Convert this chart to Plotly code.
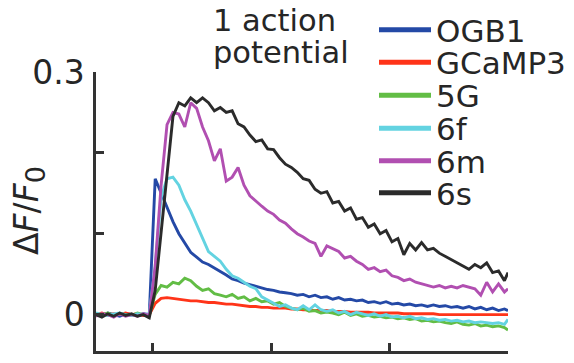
import plotly.graph_objects as go

# ---------------- data ----------------
time_s = [-0.48, -0.43, -0.38, -0.33, -0.28, -0.23, -0.18, -0.13, -0.08, -0.03,
          0.02, 0.07, 0.12, 0.17, 0.22, 0.27, 0.32, 0.37, 0.42, 0.47,
          0.52, 0.57, 0.62, 0.67, 0.72, 0.77, 0.82, 0.87, 0.92, 0.97,
          1.02, 1.07, 1.12, 1.17, 1.22, 1.27, 1.32, 1.37, 1.42, 1.47,
          1.52, 1.57, 1.62, 1.67, 1.72, 1.77, 1.82, 1.87, 1.92, 1.97,
          2.02, 2.07, 2.12, 2.17, 2.22, 2.27, 2.32, 2.37, 2.42, 2.47,
          2.52, 2.57, 2.62, 2.67, 2.72, 2.77, 2.82, 2.87, 2.92, 2.97, 3.00]

ogb1 = [0.001, -0.001, 0.002, 0.000, -0.002, 0.001, 0.000, -0.001, 0.001, 0.000,
        0.168, 0.150, 0.133, 0.115, 0.100, 0.088, 0.077, 0.071, 0.065, 0.062,
        0.058, 0.054, 0.049, 0.044, 0.042, 0.039, 0.037, 0.035, 0.033, 0.031,
        0.030, 0.028, 0.027, 0.026, 0.024, 0.025, 0.022, 0.024, 0.021, 0.022,
        0.019, 0.021, 0.018, 0.019, 0.017, 0.018, 0.015, 0.016, 0.014, 0.016,
        0.013, 0.014, 0.012, 0.013, 0.011, 0.012, 0.010, 0.012, 0.010, 0.011,
        0.009, 0.010, 0.008, 0.010, 0.007, 0.009, 0.006, 0.008, 0.005, 0.007, 0.005]

gcamp3 = [0.000, 0.002, -0.001, 0.001, 0.000, 0.002, 0.000, 0.001, -0.001, 0.000,
          0.014, 0.020, 0.021, 0.020, 0.019, 0.018, 0.017, 0.017, 0.016, 0.015,
          0.015, 0.014, 0.013, 0.013, 0.012, 0.011, 0.010, 0.010, 0.009, 0.009,
          0.008, 0.008, 0.008, 0.007, 0.007, 0.006, 0.006, 0.005, 0.005, 0.005,
          0.004, 0.004, 0.004, 0.003, 0.003, 0.003, 0.003, 0.002, 0.002, 0.002,
          0.002, 0.002, 0.001, 0.001, 0.001, 0.001, 0.001, 0.001, 0.000, 0.000,
          0.000, 0.000, 0.000, 0.000, 0.000, 0.000, 0.000, 0.000, 0.000, 0.000, 0.000]

g5 = [0.001, 0.000, 0.002, -0.001, 0.001, 0.000, -0.001, 0.002, 0.000, -0.001,
      0.025, 0.036, 0.034, 0.040, 0.038, 0.045, 0.042, 0.035, 0.030, 0.032,
      0.026, 0.024, 0.022, 0.025, 0.020, 0.022, 0.017, 0.020, 0.016, 0.017,
      0.013, 0.015, 0.010, 0.008, 0.006, 0.008, 0.004, 0.005, 0.002, 0.003,
      0.002, 0.000, 0.003, -0.001, 0.001, -0.002, -0.001, -0.003, -0.002, -0.004,
      -0.003, -0.005, -0.004, -0.006, -0.005, -0.008, -0.007, -0.009, -0.008, -0.010,
      -0.011, -0.009, -0.012, -0.013, -0.011, -0.014, -0.013, -0.015, -0.014, -0.016, -0.019]

g6f = [0.002, 0.000, -0.001, 0.001, 0.002, 0.000, -0.001, 0.001, 0.000, 0.001,
       0.060, 0.145, 0.168, 0.170, 0.160, 0.142, 0.128, 0.112, 0.094, 0.078,
       0.072, 0.066, 0.056, 0.048, 0.045, 0.040, 0.035, 0.032, 0.022, 0.018,
       0.014, 0.010, 0.012, 0.008, 0.006, 0.011, 0.006, 0.012, 0.006, 0.004,
       0.006, 0.002, 0.004, 0.000, 0.003, 0.001, -0.001, 0.001, -0.002, 0.000,
       -0.003, -0.002, -0.004, -0.002, -0.005, -0.004, -0.006, -0.005, -0.007, -0.006,
       -0.008, -0.007, -0.009, -0.008, -0.010, -0.009, -0.010, -0.011, -0.010, -0.012, -0.006]

g6m = [-0.002, 0.001, 0.000, -0.003, 0.001, -0.002, 0.000, -0.002, 0.001, -0.001,
       0.060, 0.160, 0.235, 0.250, 0.248, 0.232, 0.262, 0.255, 0.232, 0.215,
       0.190, 0.205, 0.165, 0.170, 0.182, 0.160, 0.147, 0.140, 0.134, 0.128,
       0.124, 0.117, 0.113, 0.106, 0.100, 0.096, 0.091, 0.088, 0.072, 0.085,
       0.082, 0.078, 0.070, 0.072, 0.066, 0.062, 0.056, 0.058, 0.053, 0.055,
       0.048, 0.046, 0.042, 0.044, 0.040, 0.038, 0.036, 0.034, 0.036, 0.033,
       0.035, 0.033, 0.036, 0.034, 0.032, 0.024, 0.040, 0.028, 0.038, 0.028, 0.032]

g6s = [0.000, -0.003, 0.001, -0.002, 0.002, -0.001, 0.001, -0.002, 0.000, -0.004,
       0.030, 0.100, 0.175, 0.245, 0.262, 0.258, 0.268, 0.262, 0.268, 0.262,
       0.252, 0.256, 0.250, 0.252, 0.236, 0.232, 0.222, 0.214, 0.216, 0.205,
       0.204, 0.194, 0.186, 0.182, 0.176, 0.168, 0.166, 0.155, 0.150, 0.152,
       0.138, 0.140, 0.128, 0.132, 0.118, 0.120, 0.108, 0.112, 0.100, 0.104,
       0.090, 0.094, 0.074, 0.088, 0.080, 0.089, 0.080, 0.082, 0.076, 0.072,
       0.068, 0.064, 0.060, 0.056, 0.062, 0.058, 0.064, 0.052, 0.054, 0.042, 0.052]

series_names = ["OGB1", "GCaMP3", "5G", "6f", "6m", "6s"]
series_values = [ogb1, gcamp3, g5, g6f, g6m, g6s]

x_tick_vals = [0, 1, 2, 3]
y_label_vals = [0, 0.3]
y_label_text = ["0", "0.3"]
y_minor_vals = [0.1, 0.2]

# ---------------- styling ----------------
colors = ["#2449a6", "#ff3419", "#62bd45", "#63d3e1", "#b14fb1", "#2b2b2b"]
TXT = "#262626"
AX = "#333333"
FONT = "DejaVu Sans"

W, H = 574, 363
L, R, T, B = 96, 66, 72, 12
PW, PH = W - L - R, H - T - B


def px_x(px):
    return (px - L) / PW


def px_y(py):
    return (H - B - py) / PH


fig = go.Figure()
for name, vals, col in zip(series_names, series_values, colors):
    fig.add_trace(go.Scatter(x=time_s, y=vals, mode="lines", name=name,
                             line=dict(color=col, width=2.9),
                             showlegend=False, cliponaxis=False, hoverinfo="skip"))

legend_y_px = [30, 62.5, 95.5, 128.5, 161, 193]
for i, (name, col) in enumerate(zip(series_names, colors)):
    lg = "legend" if i == 0 else f"legend{i + 1}"
    fig.add_trace(go.Scatter(x=[None], y=[None], mode="lines", name=name,
                             line=dict(color=col, width=5), legend=lg,
                             showlegend=True, hoverinfo="skip"))
    fig.update_layout(**{lg: dict(x=px_x(374), y=px_y(legend_y_px[i]),
                                  xanchor="left", yanchor="middle",
                                  bgcolor="rgba(0,0,0,0)", borderwidth=0,
                                  font=dict(family=FONT, size=31, color=TXT),
                                  itemwidth=52)})

fig.update_layout(
    width=W, height=H,
    margin=dict(l=L, r=R, t=T, b=B, pad=0, autoexpand=False),
    paper_bgcolor="white", plot_bgcolor="white",
    showlegend=True,
    font=dict(family=FONT, color=TXT),
    xaxis=dict(range=[-0.48, 3.0], showgrid=False, zeroline=False,
               showline=True, linecolor=AX, linewidth=2.5,
               ticks="inside", ticklen=8, tickwidth=2.5, tickcolor=AX,
               tickvals=x_tick_vals, showticklabels=False, fixedrange=True),
    yaxis=dict(range=[-0.045, 0.3], showgrid=False, zeroline=False,
               showline=True, linecolor=AX, linewidth=2.5,
               ticks="inside", ticklen=8, tickwidth=2.5, tickcolor=AX,
               tickvals=y_label_vals, ticktext=y_label_text,
               minor=dict(tickvals=y_minor_vals, ticks="inside", ticklen=8,
                          tickwidth=2.5, tickcolor=AX, showgrid=False),
               tickfont=dict(family=FONT, size=33, color=TXT),
               ticklabelstandoff=2, fixedrange=True),
    annotations=[
        dict(text="Δ<i>F</i>/<i>F</i><sub><span style='font-size:27px'>0</span></sub>",
             textangle=-90,
             x=px_x(29), y=px_y(211), xref="paper", yref="paper",
             xanchor="center", yanchor="middle", showarrow=False,
             font=dict(family=FONT, size=33, color=TXT)),
        dict(text="1 action", x=px_x(211), y=px_y(21), xref="paper", yref="paper",
             xanchor="left", yanchor="middle", showarrow=False,
             font=dict(family=FONT, size=30.5, color=TXT)),
        dict(text="potential", x=px_x(211), y=px_y(52), xref="paper", yref="paper",
             xanchor="left", yanchor="middle", showarrow=False,
             font=dict(family=FONT, size=30.5, color=TXT)),
    ],
)

fig.write_html("out.html", config={"displayModeBar": False},
               post_script="document.body.style.margin='0px';")
